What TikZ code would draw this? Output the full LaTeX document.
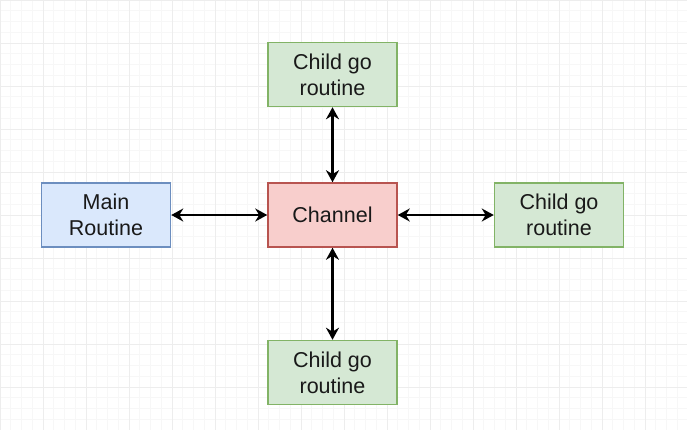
\documentclass[tikz,border=0pt]{standalone}
\usepackage{fontspec}
\setmainfont{Liberation Sans}
\usetikzlibrary{arrows.meta,positioning}
\definecolor{mainfill}{HTML}{DAE8FC}
\definecolor{maindraw}{HTML}{6C8EBF}
\definecolor{chanfill}{HTML}{F8CECC}
\definecolor{chandraw}{HTML}{B85450}
\definecolor{kidfill}{HTML}{D5E8D4}
\definecolor{kiddraw}{HTML}{82B366}
\tikzset{
  box/.style={rectangle, draw, line width=1.5pt, minimum width=129pt, minimum height=64pt, align=center, inner sep=2pt, font=\fontsize{21.5}{26}\selectfont, text=black!90},
  routine/.style={box, fill=mainfill, draw=maindraw},
  chan/.style={box, fill=chanfill, draw=chandraw},
  child/.style={box, fill=kidfill, draw=kiddraw},
  arr/.style={{Stealth[length=12pt,width=13pt]}-{Stealth[length=12pt,width=13pt]}, line width=2.4pt}
}
\begin{document}
\begin{tikzpicture}[node distance=75pt and 96pt]
\useasboundingbox (0,0) rectangle (687pt,-430pt);
\fill[white] (0,0) rectangle (687pt,-430pt);
\draw[black!3, line width=0.6pt, step=10.75pt] (0,0) grid (687pt,-430pt);
\draw[black!7, line width=0.8pt, step=43pt] (0,0) grid (687pt,-430pt);
\node[chan] (chan) at (332.5pt,-215pt) {Channel};
\node[routine, left=of chan] (main) {Main\\Routine};
\node[child, above=of chan] (top) {Child go\\routine};
\node[child, right=of chan] (right) {Child go\\routine};
\node[child, below=92pt of chan] (bottom) {Child go\\routine};

\draw[arr] (main) -- (chan); \draw[arr] (chan) -- (right);
\draw[arr] (top) -- (chan); \draw[arr] (chan) -- (bottom);
\end{tikzpicture}
\end{document}
